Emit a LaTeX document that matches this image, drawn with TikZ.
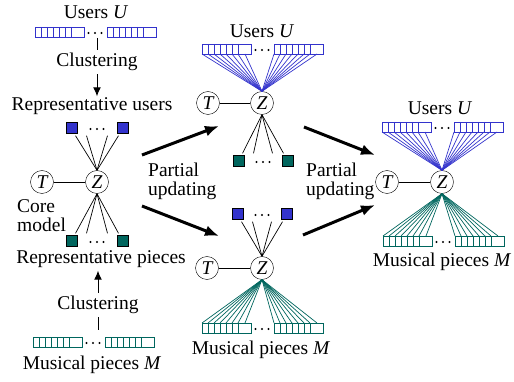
\documentclass[tikz,border=0pt]{standalone}
\usepackage{fontspec}
\setmainfont{Liberation Serif}
\usetikzlibrary{calc}
\usetikzlibrary{arrows.meta}
\definecolor{userblue}{RGB}{51,51,204}
\definecolor{pieceteal}{RGB}{0,102,94}

% three dots around a point
\newcommand{\threedots}[2]{%
  \foreach \d in {-6.5,0,6.5}
    \fill ({#1+\d},#2) circle (1.2);
}
% two cell vectors with dots between; name, centre x, top y, colour
\newcommand{\vecrow}[4]{%
  \foreach \s/\o in {1/-60,2/12}{
    \draw[#4,line width=0.9pt] ({#2+\o},#3) rectangle ++(49,10);
    \foreach \k in {6,12,...,36}
      \draw[#4,line width=0.9pt] ({#2+\o+\k},#3) -- ++(0,10);
    \foreach \k [count=\n] in {0,6,12,18,24,30,36,43}{
      \coordinate (#1-\s-\n-t) at ({#2+\o+\k},#3);
      \coordinate (#1-\s-\n-b) at ({#2+\o+\k},{#3+10});
    }
  }
  \threedots{#2}{#3+6}
}

\begin{document}
\begin{tikzpicture}[x=1pt,y=-1pt,
   font=\fontsize{19.5}{18.5}\selectfont,
   var/.style={draw,circle,fill=white,minimum size=23pt,inner sep=0pt,
      font=\fontsize{19.5}{18.5}\selectfont\itshape},
   usq/.style={draw,fill=userblue,minimum size=11pt,inner sep=0pt},
   psq/.style={draw,fill=pieceteal,minimum size=11pt,inner sep=0pt},
   lbl/.style={inner sep=1pt},
   two/.style={inner sep=0pt,align=left,anchor=north west},
   upd/.style={-{Latex[length=14pt,width=11pt]},line width=3pt},
   clus/.style={-{Latex[length=9pt,width=8pt]},line width=1pt},
   fan/.style={line width=0.7pt}]
\useasboundingbox (0,0) rectangle (514,382);

% core model with clustering
\node[lbl] (lU) at (96,12) {Users \textit{U}};
\vecrow{lu}{95}{27}{userblue}
\coordinate (lut) at (97,38);
\node[lbl,inner sep=3pt] (lc1) at (97,62) {Clustering};
\node[lbl] (lru) at (92,106) {Representative users};
\draw[line width=1pt] (lut) -- (lc1);
\draw[clus] (lc1) -- (lc1 |- lru.north);

\node[usq] (lsq1) at (71.5,128) {};
\node[usq] (lsq2) at (122.5,128) {};
\threedots{97}{129}
\node[var] (lT) at (42,182) {T};
\node[var] (lZ) at (97,182) {Z};
\draw (lT) -- (lZ);
\foreach \o in {4,15} \draw[fan] ($(lsq1.south)+(\o,2)$) -- (lZ.north);
\foreach \o in {-15,-4} \draw[fan] ($(lsq2.south)+(\o,2)$) -- (lZ.north);

\node[psq] (lsq3) at (71.5,241) {};
\node[psq] (lsq4) at (122.5,241) {};
\threedots{97}{242}
\foreach \o in {4,15} \draw[fan] (lZ.south) -- ($(lsq3.north)+(\o,-2)$);
\foreach \o in {-15,-4} \draw[fan] (lZ.south) -- ($(lsq4.north)+(\o,-2)$);
\node[two] (core) at (17,199.5) {Core\\model};

\node[lbl,inner sep=3pt] (lrp) at (101,259) {Representative pieces};
\node[lbl,inner sep=3pt] (lc2) at (98,305) {Clustering};
\coordinate (lpt) at (98,330);
\draw[clus] (lc2) -- (lc2 |- lrp.south);
\draw[line width=1pt] (lc2) -- (lpt);
\vecrow{lp}{93}{337}{pieceteal}
\node[lbl] (lM) at (92,365) {Musical pieces \textit{M}};

% users updated
\node[lbl] (mtU) at (262,31) {Users \textit{U}};
\vecrow{mu}{262}{44}{userblue}
\node[var] (mtT) at (208,103) {T};
\node[var] (mtZ) at (262,103) {Z};
\draw (mtT) -- (mtZ);
\foreach \s in {1,2}
  \foreach \n in {1,...,8}
    \draw[userblue,fan] (mu-\s-\n-b) -- (mtZ.north);
\node[psq] (mtsq1) at (238.5,161) {};
\node[psq] (mtsq2) at (287.5,161) {};
\threedots{263}{162}
\foreach \o in {4,15} \draw[fan] (mtZ.south) -- ($(mtsq1.north)+(\o,-2)$);
\foreach \o in {-15,-4} \draw[fan] (mtZ.south) -- ($(mtsq2.north)+(\o,-2)$);

% pieces updated
\node[usq] (mbsq1) at (237.5,214) {};
\node[usq] (mbsq2) at (286.5,214) {};
\threedots{262}{215}
\node[var] (mbT) at (207,268) {T};
\node[var] (mbZ) at (262,268) {Z};
\draw (mbT) -- (mbZ);
\foreach \o in {4,15} \draw[fan] ($(mbsq1.south)+(\o,2)$) -- (mbZ.north);
\foreach \o in {-15,-4} \draw[fan] ($(mbsq2.south)+(\o,2)$) -- (mbZ.north);
\vecrow{mp}{262}{323}{pieceteal}
\foreach \s in {1,2}
  \foreach \n in {1,...,8}
    \draw[pieceteal,fan] (mbZ.south) -- (mp-\s-\n-t);
\node[lbl] (mbM) at (261,350) {Musical pieces \textit{M}};

% full model
\node[lbl] (rU) at (440,108) {Users \textit{U}};
\vecrow{ru}{442}{122}{userblue}
\node[var] (rT) at (387,182) {T};
\node[var] (rZ) at (442,182) {Z};
\draw (rT) -- (rZ);
\foreach \s in {1,2}
  \foreach \n in {1,...,8}
    \draw[userblue,fan] (ru-\s-\n-b) -- (rZ.north);
\vecrow{rp}{443}{236}{pieceteal}
\foreach \s in {1,2}
  \foreach \n in {1,...,8}
    \draw[pieceteal,fan] (rZ.south) -- (rp-\s-\n-t);
\node[lbl] (rM) at (442,262) {Musical pieces \textit{M}};

% partial updating arrows
\coordinate (a1s) at (142,155);
\coordinate (a1e) at (219,126);
\coordinate (a2s) at (142,206);
\coordinate (a2e) at (219,236);
\coordinate (a3s) at (304,127);
\coordinate (a3e) at (375,155);
\coordinate (a4s) at (303,235);
\coordinate (a4e) at (375,205);
\draw[upd] (a1s) -- (a1e);
\draw[upd] (a2s) -- (a2e);
\draw[upd] (a3s) -- (a3e);
\draw[upd] (a4s) -- (a4e);
\node[two] (pu1) at (148,163) {Partial\\updating};
\node[two] (pu2) at (306,163) {Partial\\updating};
\end{tikzpicture}
\end{document}
